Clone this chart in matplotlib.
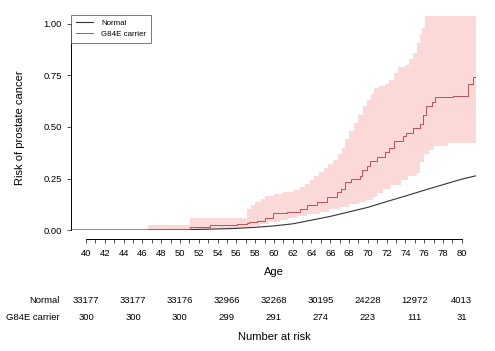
import numpy as np
import matplotlib
matplotlib.use('Agg')
import matplotlib.pyplot as plt
import matplotlib.transforms as mtrans

plt.rcParams['font.family'] = ['Liberation Sans', 'DejaVu Sans']

# normal population (smooth curve)
norm_age = [38.4, 48, 50, 52, 54, 56, 58, 60, 62, 64, 66, 68, 70, 72, 74, 76, 78, 80, 81.5]
norm_risk = [0, 0, 0.001, 0.003, 0.005, 0.008, 0.013, 0.020, 0.030, 0.048, 0.066,
             0.088, 0.110, 0.138, 0.165, 0.193, 0.220, 0.247, 0.263]

# G84E carriers, KM steps
car_age = [38.4, 46.6, 51.1, 53.2, 56.1, 57.1, 57.4, 58.2, 59.0, 59.9, 61.4, 62.8, 63.5,
           64.6, 65.6, 66.7, 67.1, 67.6, 68.2, 69.2, 69.4, 69.9, 70.2, 71.0, 71.8, 72.3,
           72.8, 73.7, 74.1, 74.8, 75.5, 75.9, 76.2, 76.8, 77.1, 79.1, 80.7, 81.2, 81.5]
car_risk = [0, 0.003, 0.017, 0.023, 0.030, 0.035, 0.040, 0.045, 0.057, 0.081, 0.086, 0.100,
            0.121, 0.137, 0.162, 0.186, 0.200, 0.234, 0.246, 0.262, 0.290, 0.310, 0.335,
            0.356, 0.380, 0.400, 0.430, 0.455, 0.470, 0.495, 0.515, 0.560, 0.600, 0.623,
            0.644, 0.652, 0.709, 0.741, 0.741]

# confidence band of carriers
hi_age = [38.4, 46.6, 51.1, 57.1, 57.6, 58.0, 58.6, 59.0, 60.0, 61.0, 62.0, 62.8, 63.3,
          63.8, 64.3, 64.8, 65.3, 65.8, 66.3, 66.8, 67.2, 67.6, 68.0, 68.5, 69.0, 69.5,
          69.9, 70.3, 70.7, 71.2, 71.8, 72.3, 72.8, 73.2, 74.0, 74.4, 74.8, 75.2, 75.5,
          75.8, 76.1, 81.5]
hi_risk = [0, 0.024, 0.06, 0.10, 0.12, 0.137, 0.15, 0.165, 0.175, 0.185, 0.195, 0.21,
           0.225, 0.245, 0.26, 0.28, 0.30, 0.32, 0.34, 0.37, 0.40, 0.44, 0.48, 0.52, 0.56,
           0.60, 0.63, 0.66, 0.69, 0.70, 0.71, 0.73, 0.76, 0.79, 0.80, 0.83, 0.86, 0.91,
           0.95, 0.98, 1.04, 1.04]
lo_age = [38.4, 51.1, 53.0, 55.0, 56.0, 57.0, 57.8, 58.5, 59.5, 60.6, 61.5, 62.5, 63.5,
          64.9, 65.9, 67.0, 68.0, 69.1, 69.8, 70.5, 71.0, 71.6, 72.5, 73.5, 74.3, 75.2,
          75.6, 76.0, 76.5, 77.0, 78.5, 81.5]
lo_risk = [0, 0.001, 0.003, 0.005, 0.008, 0.012, 0.02, 0.03, 0.04, 0.049, 0.058, 0.07,
           0.078, 0.089, 0.10, 0.113, 0.125, 0.137, 0.148, 0.16, 0.18, 0.20, 0.22, 0.243,
           0.26, 0.277, 0.33, 0.37, 0.39, 0.41, 0.42, 0.42]

risk_ages = [40, 45, 50, 55, 60, 65, 70, 75, 80]
risk_normal = [33177, 33177, 33176, 32966, 32268, 30195, 24228, 12972, 4013]
risk_carrier = [300, 300, 300, 299, 291, 274, 223, 111, 31]


def step_at(xs, ys, grid):
    idx = np.searchsorted(xs, grid, side='right') - 1
    return np.asarray(ys)[idx]


fig = plt.figure(figsize=(4.95, 3.51), dpi=100)
ax = fig.add_axes([0.1434, 0.3447, 0.818, 0.6134])

grid = np.union1d(hi_age, lo_age)
ax.fill_between(grid, step_at(lo_age, lo_risk, grid), step_at(hi_age, hi_risk, grid),
                step='post', color='#fbd9d9', lw=0)
ax.plot(norm_age, norm_risk, color='#333333', lw=0.8, label='Normal')
ax.step(car_age, car_risk, where='post', color='#bd5053', lw=0.7, label='G84E carrier')

ax.set_xlim(38.4, 81.5)
ax.set_ylim(0, 1.045)

for s in ['top', 'right']:
    ax.spines[s].set_visible(False)
ax.spines['left'].set_bounds(0, 1)
ax.spines['bottom'].set_bounds(40, 80)
ax.spines['bottom'].set_position(('outward', 6.5))
ax.spines['left'].set_linewidth(0.7)
ax.spines['bottom'].set_linewidth(0.7)

ax.set_yticks([0, 0.25, 0.5, 0.75, 1.0])
ax.set_yticklabels(['0.00', '0.25', '0.50', '0.75', '1.00'])
ax.set_xticks(range(40, 81))
ax.set_xticklabels([str(a) if a % 2 == 0 else '' for a in range(40, 81)])
ax.tick_params(axis='both', direction='out', length=3.2, width=0.6, labelsize=6.8,
               pad=3.5, color='#333333')
ax.tick_params(axis='x', pad=4.2)

ax.set_ylabel('Risk of prostate cancer', fontsize=8)
ax.yaxis.set_label_coords(-0.114, 0.475)

leg = ax.legend(loc='upper left', bbox_to_anchor=(0, 1), borderaxespad=0, fontsize=5.7,
                fancybox=False, handlelength=2.2, handletextpad=1.0, borderpad=0.6,
                labelspacing=0.45)
leg.get_frame().set_edgecolor('#555555')
leg.get_frame().set_linewidth(0.7)

tr = mtrans.blended_transform_factory(ax.transData, fig.transFigure)
fig.text(60, 0.226, 'Age', transform=tr, ha='center', va='center', fontsize=8)
for a, n, c in zip(risk_ages, risk_normal, risk_carrier):
    fig.text(a, 0.1433, str(n), transform=tr, ha='center', va='center', fontsize=6.8)
    fig.text(a, 0.0949, str(c), transform=tr, ha='center', va='center', fontsize=6.8)
fig.text(0.1212, 0.1433, 'Normal', ha='right', va='center', fontsize=6.8)
fig.text(0.1212, 0.0949, 'G84E carrier', ha='right', va='center', fontsize=6.8)
fig.text(60, 0.039, 'Number at risk', transform=tr, ha='center', va='center', fontsize=8)

fig.savefig('out.png', dpi=100)
